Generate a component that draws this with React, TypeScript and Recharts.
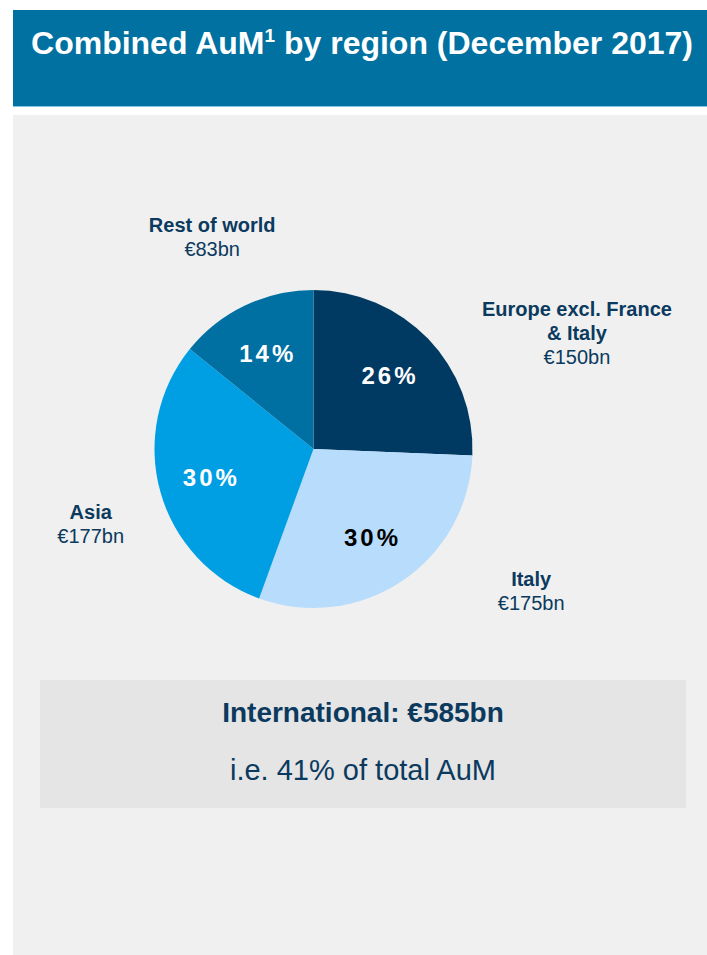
import { PieChart, Pie, Cell } from "recharts";

const REGIONS = ["Europe excl. France & Italy", "Italy", "Asia", "Rest of world"];
const NAME_LINES = [["Europe excl. France", "& Italy"], ["Italy"], ["Asia"], ["Rest of world"]];
const AUM_BN = [150, 175, 177, 83];
const SHARE_OF_TOTAL = 41;

const COLORS = ["#003a63", "#b8dcfb", "#009fe3", "#0070a3"];
const PCT_COLORS = ["#ffffff", "#000000", "#ffffff", "#ffffff"];
// where the outside captions sit: distance from centre and nudge off the slice mid angle
const CAPTION_PLACE = [
  { dist: 288, nudge: -20 },
  { dist: 260, nudge: 23 },
  { dist: 235, nudge: 3 },
  { dist: 235, nudge: 0 },
];

const NAVY = "#0b3a5e";
const FONT = "'Liberation Sans', Arial, sans-serif";
const RAD = Math.PI / 180;

const dados = REGIONS.map((nome, i) => ({ nome, valor: AUM_BN[i] }));
const total = AUM_BN.reduce((a, b) => a + b, 0);

function Rotulo(props: any) {
  const { cx, cy, midAngle, index, value } = props;
  const pct = Math.round((value / total) * 100);
  const pr = 106;
  const px = cx + pr * Math.cos(-midAngle * RAD);
  const py = cy + pr * Math.sin(-midAngle * RAD);
  const place = CAPTION_PLACE[index];
  const a = midAngle + place.nudge;
  const lx = cx + place.dist * Math.cos(-a * RAD);
  const ly = cy + place.dist * Math.sin(-a * RAD);
  const lines = NAME_LINES[index];
  const n = lines.length + 1;
  const top = ly - ((n - 1) * 24) / 2;
  return (
    <g fontFamily={FONT}>
      <text x={px} y={py} textAnchor="middle" dominantBaseline="central" fill={PCT_COLORS[index]}
        fontSize={24} fontWeight="bold" letterSpacing={3}>
        {pct}%
      </text>
      {lines.map((l, k) => (
        <text key={k} x={lx} y={top + k * 24} textAnchor="middle" dominantBaseline="central"
          fill={NAVY} fontSize={20} fontWeight="bold">
          {l}
        </text>
      ))}
      <text x={lx} y={top + lines.length * 24} textAnchor="middle" dominantBaseline="central"
        fill={NAVY} fontSize={20}>
        €{value}bn
      </text>
    </g>
  );
}

export default function App() {
  return (
    <div style={{ position: "absolute", left: 0, top: 0, width: 707, height: 955, background: "#fff", fontFamily: FONT, overflow: "hidden" }}>
      <div style={{ position: "absolute", left: 13, top: 10, width: 694, height: 97, background: "#0071a1" }} />
      <div style={{ position: "absolute", left: 13, top: 106, width: 694, height: 1, background: "#7fc7e0" }} />
      <div style={{ position: "absolute", left: 15, top: 25, width: 694, textAlign: "center", color: "#fff", fontSize: 32, fontWeight: "bold", lineHeight: "36px", whiteSpace: "nowrap" }}>
        Combined AuM<sup style={{ fontSize: 19, verticalAlign: "top", lineHeight: "22px" }}>1</sup> by region (December 2017)
      </div>
      <div style={{ position: "absolute", left: 13, top: 115, width: 694, height: 840, background: "#f0f0f0" }} />
      <div style={{ position: "absolute", left: 0, top: 0 }}>
        <PieChart width={707} height={955} margin={{ top: 0, right: 0, bottom: 0, left: 0 }}>
          <Pie data={dados} dataKey="valor" nameKey="nome" cx={313.5} cy={449} outerRadius={159}
            startAngle={90} endAngle={-270} stroke="none" label={Rotulo} labelLine={false}
            isAnimationActive={false}>
            {dados.map((d, i) => (
              <Cell key={d.nome} fill={COLORS[i]} />
            ))}
          </Pie>
        </PieChart>
      </div>
      <div style={{ position: "absolute", left: 40, top: 680, width: 646, height: 128, background: "#e5e5e5", color: NAVY, textAlign: "center" }}>
        <div style={{ position: "absolute", left: 0, right: 0, top: 16, fontSize: 28, fontWeight: "bold", lineHeight: "34px" }}>
          International: €{total}bn
        </div>
        <div style={{ position: "absolute", left: 0, right: 0, top: 73, fontSize: 29, lineHeight: "34px" }}>
          i.e. {SHARE_OF_TOTAL}% of total AuM
        </div>
      </div>
    </div>
  );
}
